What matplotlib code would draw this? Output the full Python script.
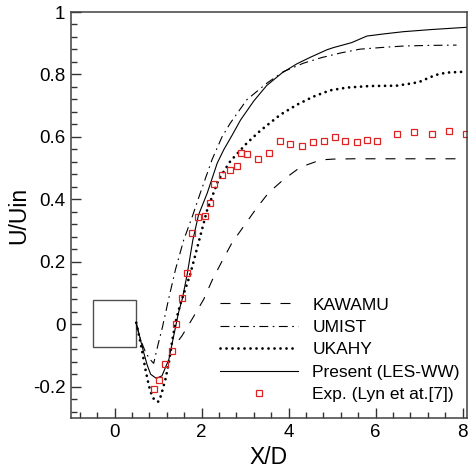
import matplotlib
matplotlib.use('Agg')
import matplotlib.pyplot as plt
from matplotlib.patches import Rectangle
from matplotlib.ticker import MultipleLocator, FixedLocator, FixedFormatter

plt.rcParams['font.family'] = ['Liberation Sans', 'DejaVu Sans']

# mean streamwise velocity on the wake centreline
kawamu_x = [1.48, 1.55, 1.78, 2.05, 2.24, 2.47, 2.70, 2.97, 3.27, 3.54, 3.88, 4.27, 4.65, 4.80, 5.03, 5.5, 6.0, 7.0, 8.0]
kawamu_y = [-0.05, -0.037, 0.016, 0.08, 0.14, 0.202, 0.261, 0.314, 0.373, 0.421, 0.463, 0.503, 0.522, 0.527, 0.529, 0.53, 0.53, 0.53, 0.53]

umist_x = [0.5, 0.6, 0.7, 0.8, 0.9, 1.0, 1.1, 1.25, 1.4, 1.59, 1.8, 1.97, 2.24, 2.47, 2.66, 3.04, 3.50, 3.88, 4.34, 4.76, 5.2, 5.64, 6.2, 6.64, 7.2, 7.86]
umist_y = [0.0, -0.05, -0.085, -0.11, -0.125, -0.065, -0.01, 0.085, 0.175, 0.27, 0.35, 0.42, 0.527, 0.60, 0.644, 0.719, 0.772, 0.809, 0.836, 0.854, 0.869, 0.881, 0.887, 0.891, 0.893, 0.894]

ukahy_x = [0.5, 0.6, 0.71, 0.79, 0.86, 0.93, 0.98, 1.02, 1.07, 1.17, 1.25, 1.32, 1.40, 1.51, 1.74, 1.93, 2.13, 2.39, 2.66, 3.04, 3.35, 3.81, 4.19, 4.57, 4.95, 5.34, 5.87, 6.48, 6.86, 7.02, 7.25, 7.40, 7.63, 7.78, 8.09]
ukahy_y = [0.005, -0.06, -0.144, -0.197, -0.229, -0.245, -0.248, -0.247, -0.227, -0.176, -0.122, -0.058, 0.005, 0.064, 0.16, 0.261, 0.367, 0.463, 0.522, 0.58, 0.62, 0.671, 0.703, 0.729, 0.749, 0.758, 0.763, 0.764, 0.772, 0.777, 0.791, 0.799, 0.806, 0.807, 0.809]

present_x = [0.5, 0.58, 0.67, 0.75, 0.83, 0.96, 1.09, 1.25, 1.36, 1.47, 1.56, 1.67, 1.80, 1.93, 2.13, 2.36, 2.51, 2.68, 2.9, 3.2, 3.5, 3.85, 4.19, 4.5, 4.88, 5.03, 5.45, 5.8, 6.2, 6.64, 7.3, 8.09]
present_y = [0.005, -0.04, -0.09, -0.13, -0.16, -0.173, -0.165, -0.112, -0.037, 0.037, 0.083, 0.16, 0.27, 0.35, 0.42, 0.516, 0.559, 0.60, 0.655, 0.715, 0.765, 0.805, 0.834, 0.855, 0.879, 0.886, 0.902, 0.923, 0.930, 0.937, 0.944, 0.951]

exp_x = [0.90, 1.025, 1.15, 1.31, 1.41, 1.56, 1.67, 1.79, 1.91, 2.07, 2.20, 2.29, 2.48, 2.65, 2.81, 2.90, 3.05, 3.30, 3.56, 3.80, 4.04, 4.30, 4.57, 4.82, 5.07, 5.30, 5.57, 5.80, 6.04, 6.48, 6.88, 7.30, 7.68, 8.07]
exp_y = [-0.208, -0.178, -0.128, -0.086, 0.001, 0.083, 0.164, 0.292, 0.342, 0.347, 0.388, 0.449, 0.478, 0.494, 0.508, 0.548, 0.545, 0.530, 0.548, 0.588, 0.577, 0.572, 0.585, 0.588, 0.600, 0.588, 0.585, 0.590, 0.588, 0.609, 0.616, 0.609, 0.620, 0.609]

xticks = [0, 2, 4, 6, 8]
xtick_labels = ['0', '2', '4', '6', '8']
yticks = [-0.2, 0, 0.2, 0.4, 0.6, 0.8, 1]
ytick_labels = ['-0.2', '0', '0.2', '0.4', '0.6', '0.8', '1']

fig = plt.figure(figsize=(4.69, 4.73), dpi=100)
ax = fig.add_axes([71/469, 1 - 418/473, 396/469, 406/473])

# the cylinder cross-section
ax.add_patch(Rectangle((-0.5, -0.072), 1.0, 0.15, fill=False, edgecolor='#505050', lw=1.0))

ax.plot(kawamu_x, kawamu_y, color='black', lw=0.8, linestyle=(0, (9, 9)), label='KAWAMU')
ax.plot(umist_x, umist_y, color='black', lw=0.8, linestyle=(0, (8, 4, 1.5, 4)), label='UMIST')
ax.plot(ukahy_x, ukahy_y, color='black', lw=2.0, linestyle=(0, (0.01, 2.15)),
        dash_capstyle='round', label='UKAHY')
ax.plot(present_x, present_y, color='black', lw=0.8, label='Present (LES-WW)')
ax.plot(exp_x, exp_y, linestyle='none', marker='s', ms=4.5, mfc='none', mec='#dd2222',
        mew=0.9, label='Exp. (Lyn et at.[7])')

ax.set_xlim(-1, 8.1)
ax.set_ylim(-0.3, 1.0)
ax.xaxis.set_major_locator(FixedLocator(xticks))
ax.xaxis.set_major_formatter(FixedFormatter(xtick_labels))
ax.yaxis.set_major_locator(FixedLocator(yticks))
ax.yaxis.set_major_formatter(FixedFormatter(ytick_labels))
ax.xaxis.set_minor_locator(MultipleLocator(0.4))
ax.yaxis.set_minor_locator(MultipleLocator(0.04))
ax.tick_params(which='both', direction='in', top=False, right=False,
               labelsize=13.5, color='#333333', width=1.0, pad=4)
ax.tick_params(which='major', length=7)
ax.tick_params(which='minor', length=4.3)
for s in ax.spines.values():
    s.set_color('#404040')
    s.set_linewidth(1.1)

ax.set_xlabel('X/D', fontsize=16.5, labelpad=4)
ax.set_ylabel('U/Uin', fontsize=16.5, labelpad=2)

ax.legend(loc='upper left', bbox_to_anchor=(0.375, 0.297), frameon=False, fontsize=12.5,
          handlelength=4.5, handletextpad=0.85, labelspacing=0.42, borderpad=0,
          borderaxespad=0, numpoints=1, markerscale=0.85)

fig.savefig('out.png', dpi=100)
